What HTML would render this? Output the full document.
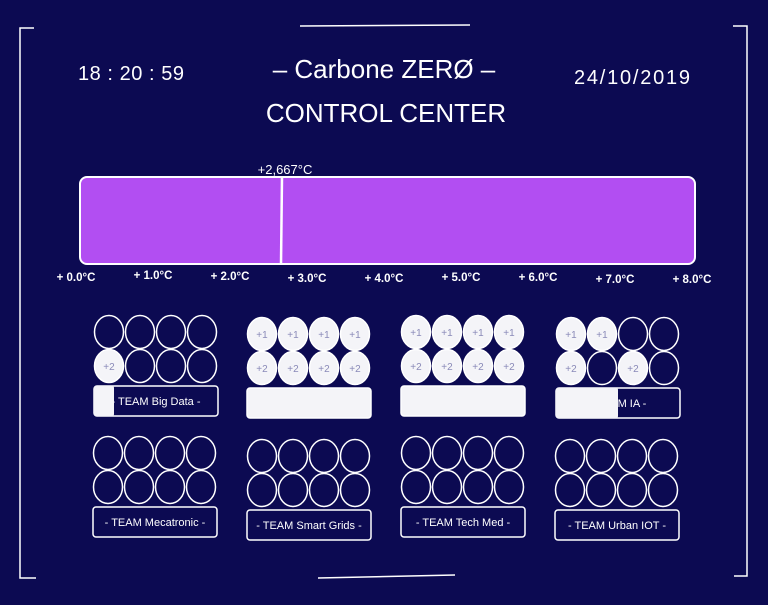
<!DOCTYPE html>
<html><head><meta charset="utf-8"><style>
html,body{margin:0;padding:0;background:#0c0a52;}
svg{display:block}
text{font-family:"Liberation Sans","DejaVu Sans",sans-serif;fill:#fff}
</style></head><body>
<svg width="768" height="605" viewBox="0 0 768 605" xmlns="http://www.w3.org/2000/svg">
<rect width="768" height="605" fill="#0c0a52"/>
<g stroke="#fff" stroke-width="1.5" fill="none">
<path d="M34 28 H20 V578 H36"/>
<path d="M733 26 H747 V576 H734"/>
<path d="M300 26 L470 25"/>
<path d="M318 578 L455 575"/>
</g>
<text x="131" y="80" font-size="20" text-anchor="middle" textLength="106">18 : 20 : 59</text>
<text x="384" y="78" font-size="26" text-anchor="middle">– Carbone ZERØ –</text>
<text x="386" y="122" font-size="26" text-anchor="middle">CONTROL CENTER</text>
<text x="632" y="84" font-size="20" text-anchor="middle" textLength="116">24/10/2019</text>
<rect x="80" y="177" width="615" height="87" rx="7" fill="#b24ef2" stroke="#fff" stroke-width="2"/>
<line x1="282" y1="177" x2="281" y2="264" stroke="#fff" stroke-width="2.5"/>
<text x="285" y="174" font-size="13" text-anchor="middle">+2,667°C</text>
<g font-size="11.5" font-weight="bold" text-anchor="middle">
<text x="76" y="281">+ 0.0°C</text>
<text x="153" y="279">+ 1.0°C</text>
<text x="230" y="280">+ 2.0°C</text>
<text x="307" y="282">+ 3.0°C</text>
<text x="384" y="282">+ 4.0°C</text>
<text x="461" y="281">+ 5.0°C</text>
<text x="538" y="281">+ 6.0°C</text>
<text x="615" y="283">+ 7.0°C</text>
<text x="692" y="283">+ 8.0°C</text>
</g>
<g id="teams"></g>
</svg>
<script>
var NS="http://www.w3.org/2000/svg",g=document.getElementById("teams");
function el(t,a,txt){var e=document.createElementNS(NS,t);for(var k in a)e.setAttribute(k,a[k]);if(txt)e.textContent=txt;g.appendChild(e);}
var teams=[
[94,316,[[0,0,0,0],[1,0,0,0]],"- TEAM Big Data -",20],
[247,318,[[1,1,1,1],[1,1,1,1]],"",125],
[401,316,[[1,1,1,1],[1,1,1,1]],"",125],
[556,318,[[1,1,0,0],[1,0,1,0]],"- TEAM IA -",62],
[93,437,[[0,0,0,0],[0,0,0,0]],"- TEAM Mecatronic -",0],
[247,440,[[0,0,0,0],[0,0,0,0]],"- TEAM Smart Grids -",0],
[401,437,[[0,0,0,0],[0,0,0,0]],"- TEAM Tech Med -",0],
[555,440,[[0,0,0,0],[0,0,0,0]],"- TEAM Urban IOT -",0]];
teams.forEach(function(t){
 var x=t[0],y=t[1];
 for(var r=0;r<2;r++)for(var c=0;c<4;c++){
  var cx=x+15+c*31,cy=y+16+r*34,f=t[2][r][c];
  el("ellipse",{cx:cx,cy:cy,rx:14.5,ry:16.5,fill:f?"#f4f4f8":"none",stroke:"#fff","stroke-width":1.5});
  if(f)el("text",{x:cx,y:cy+4,"font-size":10,"text-anchor":"middle",style:"fill:#8a8ab8"},r?"+2":"+1");
 }
 var by=y+70;
 el("rect",{x:x,y:by,width:124,height:30,rx:3,fill:t[4]>=125?"#f4f4f8":"none",stroke:"#fff","stroke-width":1.5});
 if(t[3])el("text",{x:x+62,y:by+19,"font-size":11,"text-anchor":"middle"},t[3]);
 if(t[4]>0&&t[4]<125)el("rect",{x:x,y:by,width:t[4],height:30,rx:2,fill:"#f4f4f8"});
});
</script>
</body></html>
